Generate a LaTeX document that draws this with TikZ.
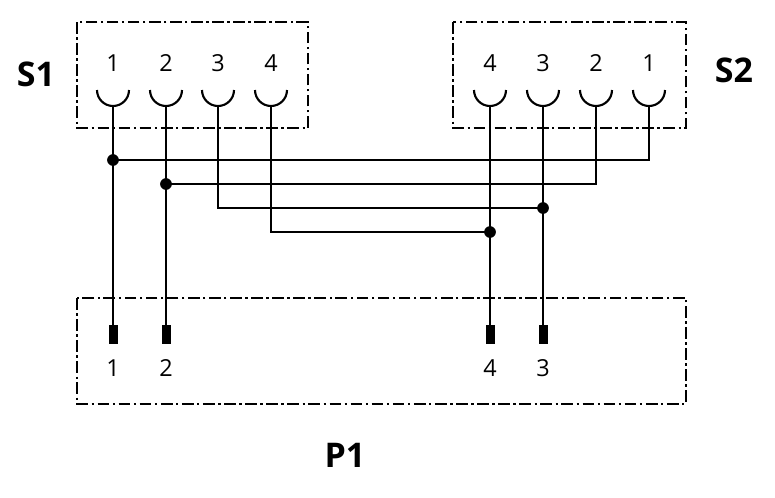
\documentclass[tikz,border=0pt]{standalone}
\usepackage{fontspec}
\setmainfont{Open Sans}
\begin{document}
\begin{tikzpicture}[x=0.03cm,y=-0.03cm,
  box/.style={draw,line width=1pt,dash pattern=on 10pt off 3pt on 2pt off 3pt},
  wire/.style={line width=1.8pt},
  num/.style={font=\fontsize{20}{20}\selectfont},
  lab/.style={font=\bfseries\fontsize{29}{29}\selectfont},
  dot/.style={circle,fill,inner sep=0pt,minimum size=10pt},
  pin/.style={fill,draw,inner sep=0pt,minimum width=7pt,minimum height=15pt}]
\useasboundingbox (0,0) rectangle (775,497);
\draw[box] (77,22) rectangle (308,128);
\draw[box] (453,22) rectangle (686,128);
\draw[box] (77,298) rectangle (686,404);
\node[lab] (S1) at (36,74) {S1};
\node[lab] (S2) at (734,70) {S2};
\node[lab] (P1) at (345,455) {P1};
% sockets
\foreach \n/\x in {a1/113,a2/166,a3/218,a4/271,b4/490,b3/543,b2/596,b1/649}{
  \draw[wire] (\x-16,90) arc[start angle=180,end angle=360,radius=0.48cm];
  \coordinate (\n) at (\x,106);
}
\foreach \t/\x in {1/113,2/166,3/218,4/271}{\node[num] (ta\t) at (\x,63) {\t};}
\foreach \t/\x in {4/490,3/543,2/596,1/649}{\node[num] (tb\t) at (\x,63) {\t};}
% pins
\node[pin] (p1) at (113,334) {};
\node[pin] (p2) at (166,334) {};
\node[pin] (p4) at (490,334) {};
\node[pin] (p3) at (543,334) {};
\node[num] (tp1) at (113,368) {1};
\node[num] (tp2) at (166,368) {2};
\node[num] (tp4) at (490,368) {4};
\node[num] (tp3) at (543,368) {3};
% junctions
\node[dot] (d1) at (113,160) {};
\node[dot] (d2) at (166,184) {};
\node[dot] (d3) at (543,208) {};
\node[dot] (d4) at (490,232) {};
\coordinate (c3) at (218,208);
\coordinate (c4) at (271,232);
% wires
\draw[wire] (a1) -- (p1.north);
\draw[wire] (a2) -- (p2.north);
\draw[wire] (b4) -- (p4.north);
\draw[wire] (b3) -- (p3.north);
\draw[wire] (d1.center) -| (b1);
\draw[wire] (d2.center) -| (b2);
\draw[wire] (a3) -- (c3) -- (d3.center);
\draw[wire] (a4) -- (c4) -- (d4.center);
\end{tikzpicture}
\end{document}
